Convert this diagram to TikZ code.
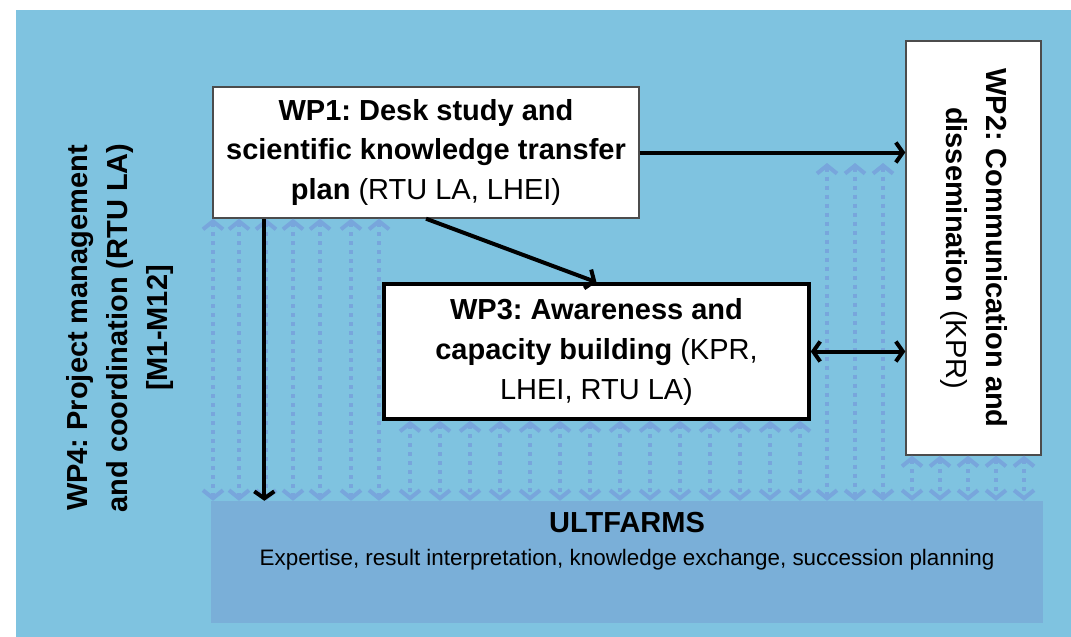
\documentclass[tikz,border=0pt]{standalone}
\usepackage{fontspec}
\setmainfont{Liberation Sans}
\usetikzlibrary{arrows.meta}
\usetikzlibrary{positioning}
\definecolor{bgblue}{HTML}{7FC3E0}
\definecolor{farmblue}{HTML}{7AAFD8}
\definecolor{dotblue}{HTML}{78A6DC}
\newcommand{\wpfont}{\fontsize{29}{40}\selectfont}
\newcommand{\notefont}{\fontsize{22.4}{26}\selectfont}
\frenchspacing
\tikzset{
    wpbox/.style = {
        rectangle,
        fill=white,
        draw=black!70,
        line width=1.4pt,
        inner sep=0pt,
        align=center,
        font=\wpfont,
    },
    farmbox/.style = {
        rectangle,
        fill=farmblue,
        minimum width=832pt,
        minimum height=122pt,
        inner sep=0pt,
    },
    dotarrow/.style = {
        draw=dotblue,
        line width=4pt,
        dash pattern=on 4pt off 5pt,
        {Straight Barb[length=8pt,width=20pt]}-{Straight Barb[length=8pt,width=20pt]},
    },
}
\tikzstyle{arrow} = [line width=4pt,-{Straight Barb[length=7pt,width=20pt]}]

\begin{document}
\begin{tikzpicture}[x=1pt, y=-1pt]
        \useasboundingbox (0,0) rectangle (1071,637);
        \fill [bgblue] (16,10) rectangle (1071,637);

        \node(ult) [farmbox] at (627,562) {};
        \node(ulttitle) [anchor=base, font=\wpfont\bfseries] at (627,532)
        {ULTFARMS};
        \node(ultnote) [anchor=base, font=\notefont] at (627,565)
        {Expertise, result interpretation, knowledge exchange, succession planning};

        \node(wp1) [wpbox, minimum width=426pt, minimum height=131pt] at (426,152.5)
        {\textbf{WP1: Desk study and}\\\textbf{scientific knowledge transfer}\\\textbf{plan} (RTU LA, LHEI)};
        \node(wp3) [wpbox, draw=black, line width=3.5pt, minimum width=425pt, minimum height=135pt] at (596.5,351.5)
        {\textbf{WP3: Awareness and}\\\textbf{capacity building} (KPR,\\LHEI, RTU LA)};
        % rotated: wp2.south is the left side, wp2.east the bottom
        \node(wp2) [wpbox, rotate=-90, minimum width=414pt, minimum height=135pt] at (973.5,248)
        {\textbf{WP2: Communication and}\\\textbf{dissemination} (KPR)};
        \node(wp4) [rotate=90, align=center, font=\wpfont\bfseries] at (120,328)
        {WP4: Project management\\and coordination (RTU LA)\\{[M1-M12]}};

        % dotted links down to the farms
        \coordinate(rail) at (0,163);
        \foreach \x in {213,239,266,293,320,351,379}
            \draw [dotarrow] (wp1.south -| \x,0) -- (ult.north -| \x,0);
        \foreach \x in {410,440,...,800}
            \draw [dotarrow] (wp3.south -| \x,0) -- (ult.north -| \x,0);
        \foreach \x in {827,855,883}
            \draw [dotarrow] (rail -| \x,0) -- (ult.north -| \x,0);
        \foreach \x in {912,940,...,1024}
            \draw [dotarrow] (wp2.east -| \x,0) -- (ult.north -| \x,0);

        \coordinate(drop) at ([xshift=52pt]wp1.south west);
        \draw [arrow] (wp1.east) -- (wp1.east -| wp2.south);
        \draw [arrow] (wp1.south) -- (wp3.north);
        \draw [arrow] (drop) -- (drop |- ult.north);
        \draw [arrow, {Straight Barb[length=7pt,width=20pt]}-{Straight Barb[length=7pt,width=20pt]}] (wp3.east) -- (wp3.east -| wp2.south);

    \end{tikzpicture}
\end{document}
